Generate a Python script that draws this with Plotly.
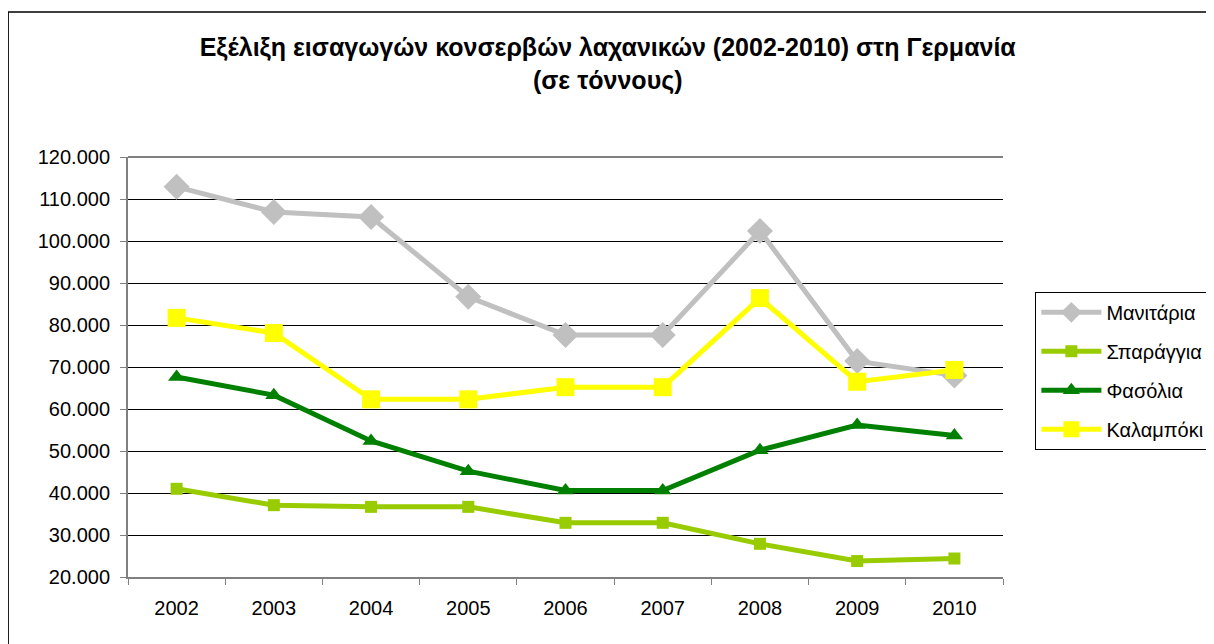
import plotly.graph_objects as go

# --- Data (tonnes) ---
years = ["2002", "2003", "2004", "2005", "2006", "2007", "2008", "2009", "2010"]
manitaria = [112900, 106900, 105700, 86700, 77600, 77600, 102400, 71400, 68000]
sparaggia = [41000, 37100, 36700, 36700, 32900, 32900, 27900, 23800, 24400]
fasolia = [67600, 63300, 52400, 45200, 40600, 40600, 50200, 56200, 53700]
kalampoki = [81700, 78100, 62300, 62300, 65200, 65200, 86400, 66500, 69300]

y_ticks = [20000, 30000, 40000, 50000, 60000, 70000, 80000, 90000, 100000, 110000, 120000]

series = [
    ("Μανιτάρια", manitaria, "#C0C0C0", "diamond", 20),
    ("Σπαράγγια", sparaggia, "#99CC00", "square", 12),
    ("Φασόλια", fasolia, "#008000", "triangle-up", 15),
    ("Καλαμπόκι", kalampoki, "#FFFF00", "square", 18),
]

fig = go.Figure()
for i, (name, vals, color, symbol, size) in enumerate(series):
    fig.add_trace(go.Scatter(
        x=years, y=vals, name=name, mode="lines+markers",
        legendgroup=str(i),
        line=dict(color=color, width=5),
        marker=dict(color=color, symbol=symbol, size=size),
    ))

fig.update_layout(
    width=1214, height=644,
    margin=dict(l=120, r=219, t=149, b=75),
    paper_bgcolor="white", plot_bgcolor="white",
    separators=",.",
    font=dict(family="Liberation Sans, Arial", size=20, color="black"),
    title=dict(
        text="<b>Εξέλιξη εισαγωγών κονσερβών λαχανικών (2002-2010) στη Γερμανία<br>(σε τόννους)</b>",
        x=0.494, xref="container", xanchor="center", y=0.925, yanchor="top",
        font=dict(size=25),
    ),
    legend=dict(
        x=1.037, y=0.679, xanchor="left", yanchor="top",
        bordercolor="black", borderwidth=1, bgcolor="white",
        font=dict(size=20), tracegroupgap=10, itemwidth=60,
    ),
    showlegend=True,
)

fig.update_xaxes(
    type="category", range=[-0.5, 8.5], tickson="boundaries",
    ticks="outside", ticklen=6, tickcolor="#808080",
    showline=True, linecolor="#808080", linewidth=2,
    showgrid=False, mirror=False, ticklabelstandoff=12,
)
fig.update_yaxes(
    range=[20000, 120000], tickvals=y_ticks, tickformat=",d",
    ticks="outside", ticklen=6, tickcolor="#808080",
    showline=True, linecolor="#808080", linewidth=2,
    showgrid=True, gridcolor="black", gridwidth=1,
    zeroline=False, ticklabelstandoff=6,
)

# plot-area top border and outer chart frame
fig.add_shape(type="line", xref="paper", yref="paper", x0=0, x1=1, y0=1, y1=1,
              line=dict(color="#808080", width=2))
fig.add_shape(type="rect", xref="paper", yref="paper",
              x0=-0.137, x1=1.3, y0=-0.2, y1=1.345,
              line=dict(color="black", width=1.5))

fig.write_html("out.html")
